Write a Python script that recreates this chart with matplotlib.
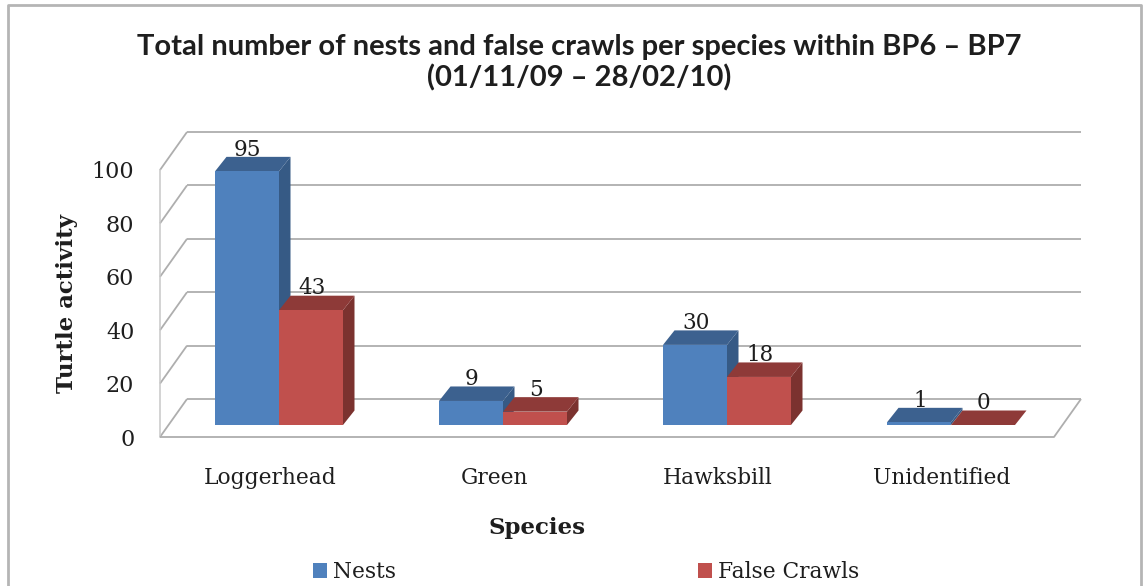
import matplotlib
matplotlib.use("Agg")
import matplotlib.pyplot as plt
from matplotlib.patches import Polygon, Rectangle
from matplotlib.lines import Line2D

categories = ["Loggerhead", "Green", "Hawksbill", "Unidentified"]
nests = [95, 9, 30, 1]
false_crawls = [43, 5, 18, 0]
series_names = ["Nests", "False Crawls"]
y_ticks = [0, 20, 40, 60, 80, 100]

W, H = 1147, 586
SERIF = "DejaVu Serif"
SANS = "Lato"
GRID = "#aeaeae"
TXT = "#1e1e1e"

fig = plt.figure(figsize=(W / 100, H / 100), dpi=100, facecolor="white")
L, R, T, B = 160, 1056, 170, 437
ax = fig.add_axes([L / W, 1 - B / H, (R - L) / W, (B - T) / H])
ax.set_xlim(0, 4)
ax.set_ylim(0, 100)
for s in ax.spines.values():
    s.set_visible(False)
ax.patch.set_visible(False)

px_x = 4 / (R - L)
px_y = 100 / (B - T)
WDX, WDY = 27 * px_x, 38 * px_y      # wall depth
OX, OY = 7 * px_x, 12 * px_y         # bar front-plane offset
BW = 64 * px_x                       # bar width
BDX, BDY = 11.5 * px_x, 14.5 * px_y  # bar depth

# walls
lk = dict(color=GRID, lw=1.3, clip_on=False, zorder=1, solid_capstyle="butt")
for v in y_ticks:
    ax.plot([WDX, 4 + WDX - 2 * px_x], [v + WDY, v + WDY], **lk)
    ax.plot([0, WDX], [v, v + WDY], **lk)
ax.plot([0, 0], [0, 100], color="#c8c8c8", lw=1.1, clip_on=False, zorder=1)
ax.plot([0, 4 - 2 * px_x, 4 - 2 * px_x + WDX], [0, 0, WDY], **lk)


def bar3d(x0, v, front, top, side):
    y0 = OY
    y1 = OY + v
    x1 = x0 + BW
    ax.add_patch(Polygon([(x1, y0), (x1 + BDX, y0 + BDY), (x1 + BDX, y1 + BDY), (x1, y1)],
                         fc=side, ec="none", clip_on=False, zorder=3))
    ax.add_patch(Polygon([(x0, y1), (x1, y1), (x1 + BDX, y1 + BDY), (x0 + BDX, y1 + BDY)],
                         fc=top, ec="none", clip_on=False, zorder=3))
    ax.add_patch(Rectangle((x0, y0), BW, v, fc=front, ec="none", clip_on=False, zorder=3))
    ax.annotate(str(v), (x0 + BW / 2 + BDX / 2 - 5 * px_x, y1 + BDY), xytext=(0, 7),
                textcoords="offset points", ha="center", va="center_baseline",
                fontsize=15.5, family=SERIF, color=TXT, zorder=2, annotation_clip=False)


for i in range(len(categories)):
    start = i + 0.5 + OX - BW
    bar3d(start, nests[i], "#4F81BD", "#3C618F", "#365A85")
    bar3d(start + BW, false_crawls[i], "#C0504D", "#8E3A38", "#7B322F")

ax.set_xticks([i + 0.5 - 2 * px_x for i in range(4)])
ax.set_xticklabels(categories, fontsize=15.7, family=SERIF, color=TXT)
ax.set_yticks(y_ticks)
ax.set_yticklabels([str(v) for v in y_ticks], fontsize=16, family=SERIF, color=TXT)
ax.tick_params(axis="x", length=0, pad=21.5)
ax.tick_params(axis="y", length=0, pad=18.5)

fig.text(537 / W, 1 - 528 / H, "Species", ha="center", va="center",
         fontsize=16.5, family=SERIF, weight="bold", color=TXT)
fig.text(67 / W, 1 - 304 / H, "Turtle activity", rotation=90, ha="center", va="center",
         fontsize=16.5, family=SERIF, weight="bold", color=TXT)
fig.text(579 / W, 1 - 63 / H,
         "Total number of nests and false crawls per species within BP6 \u2013 BP7\n(01/11/09 \u2013 28/02/10)",
         ha="center", va="center", fontsize=21, family=SANS, weight="bold", color=TXT, linespacing=1.2)

handles = [Rectangle((0, 0), 1, 1, fc="#4F81BD"), Rectangle((0, 0), 1, 1, fc="#C0504D")]
fig.legend(handles, series_names, ncols=2, loc="center left",
           bbox_to_anchor=(313 / W, 1 - 572 / H), frameon=False,
           prop=dict(family=SERIF, size=15.7), labelcolor=TXT,
           handlelength=0.65, handleheight=0.65, handletextpad=0.27,
           columnspacing=13.83, borderpad=0, borderaxespad=0)

# outer frame
fig.add_artist(Line2D([8 / W, 8 / W, 1141 / W, 1141 / W],
                      [0, 1 - 5 / H, 1 - 5 / H, 0],
                      transform=fig.transFigure, color="#b5b5b5", lw=2))

fig.savefig("out.png", dpi=100)
